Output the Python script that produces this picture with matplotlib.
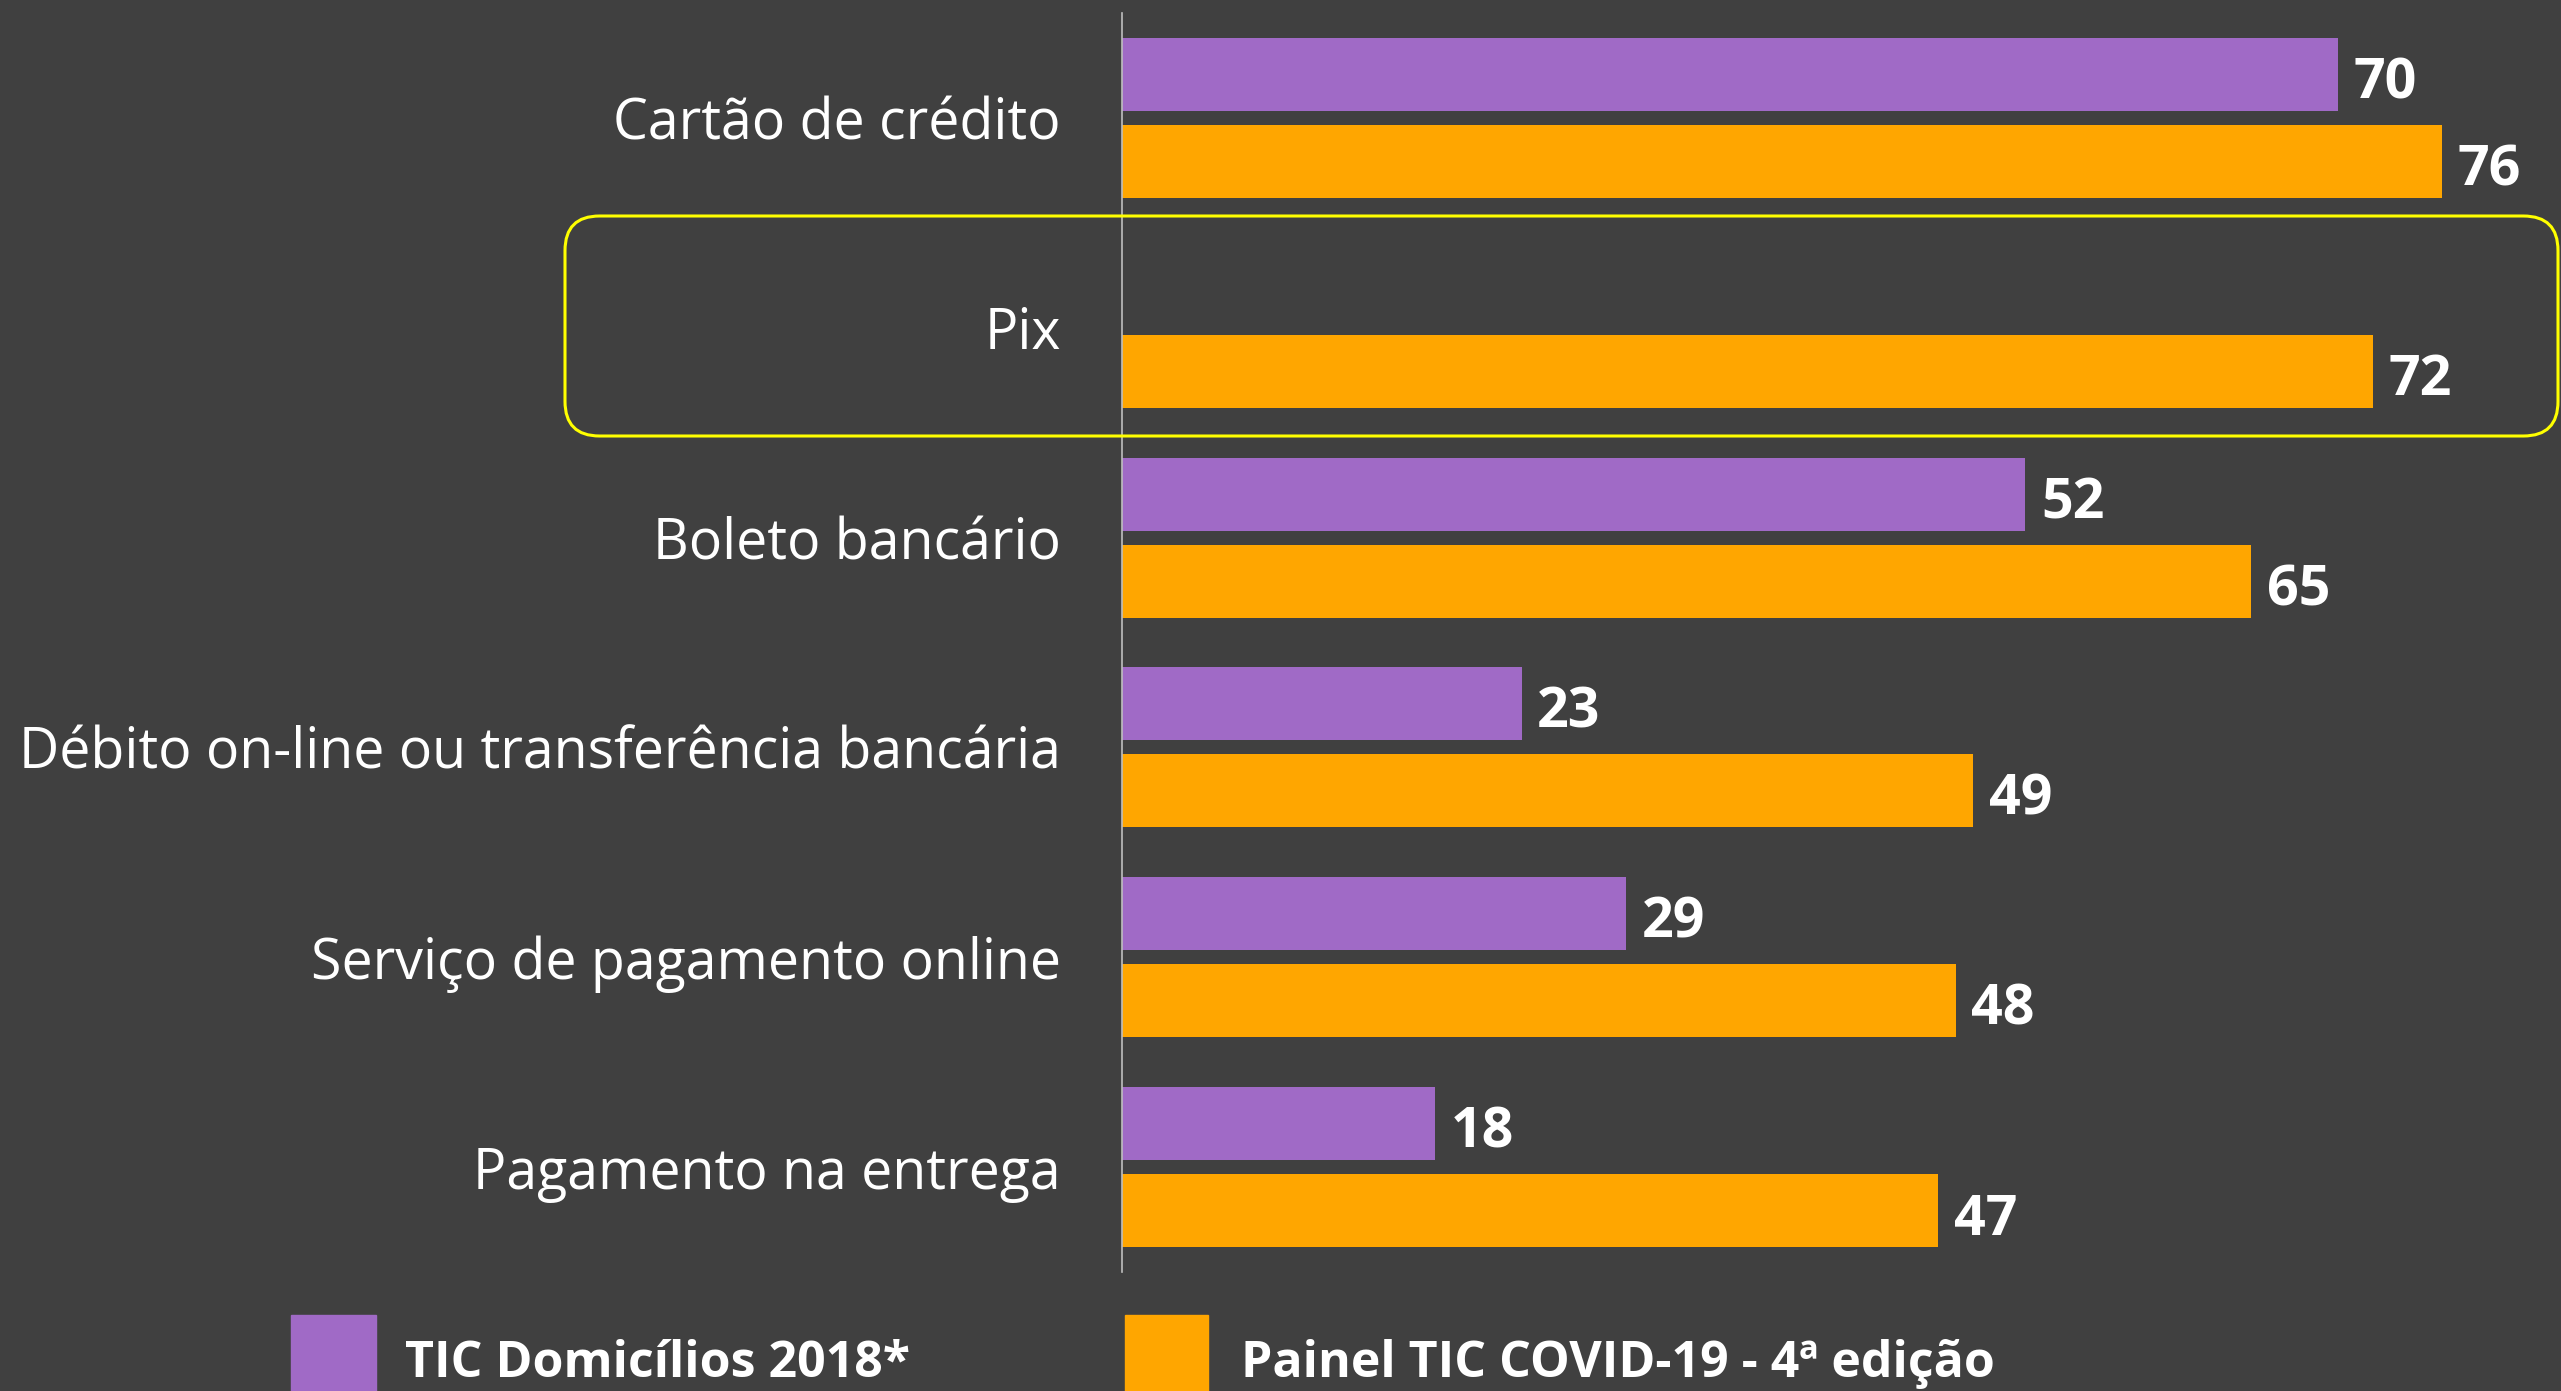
import numpy as np
import matplotlib.pyplot as plt
from matplotlib.patches import FancyBboxPatch, Rectangle

plt.switch_backend('AGG')
plt.rcParams['font.family'] = ['Open Sans', 'DejaVu Sans']

categories = ['Cartão de crédito', 'Pix', 'Boleto bancário',
              'Débito on-line ou transferência bancária',
              'Serviço de pagamento online', 'Pagamento na entrega']
tic_2018 = [70, np.nan, 52, 23, 29, 18]
covid_4 = [76, 72, 65, 49, 48, 47]
series_names = ['TIC Domicílios 2018*', 'Painel TIC COVID-19 - 4ª edição']

bg = '#404040'
purple = '#A06AC6'
orange = '#FFA600'
W, H = 2561, 1391

fig = plt.figure(figsize=(W / 100, H / 100), dpi=100, facecolor=bg)
ax = fig.add_axes([1122 / W, 1 - 1272 / H, 1 - 1122 / W, (1272 - 13) / H])
ax.set_facecolor(bg)

y = np.arange(len(categories))
off = 43.5 / 209.8
h = 73 / 209.8
ax.barh(y - off, tic_2018, height=h, color=purple)
ax.barh(y + off, covid_4, height=h, color=orange)

# value labels, nudged a little below the bar centre like the original
for i in range(len(categories)):
    if not np.isnan(tic_2018[i]):
        ax.text(tic_2018[i] + 0.9, y[i] - off + 0.045, f'{tic_2018[i]:.0f}', color='white',
                fontsize=40, fontweight='bold', va='center', ha='left')
    ax.text(covid_4[i] + 0.9, y[i] + off + 0.045, f'{covid_4[i]:.0f}', color='white',
            fontsize=40, fontweight='bold', va='center', ha='left')

ax.set_xlim(0, (W - 1122) / 17.37)
ax.set_ylim(5.5, -0.5)
ax.set_yticks(y)
ax.set_yticklabels(categories, color='white', fontsize=40)
ax.tick_params(axis='y', length=0, pad=44)
ax.set_xticks([])
for s in ['top', 'right', 'bottom']:
    ax.spines[s].set_visible(False)
ax.spines['left'].set_color('#BFBFBF')
ax.spines['left'].set_linewidth(1.2)

# highlight box around Pix
box = FancyBboxPatch((565 / W, 1 - 436 / H), (2558 - 565) / W, (436 - 216) / H,
                     boxstyle='round,pad=0,rounding_size=0.0135',
                     transform=fig.transFigure, fill=False, edgecolor='#FFFF00',
                     linewidth=2.2, mutation_aspect=W / H)
fig.patches.append(box)

# legend
fig.patches.append(Rectangle((291 / W, 0), 85 / W, 76 / H, color=purple,
                             transform=fig.transFigure))
fig.patches.append(Rectangle((1125 / W, 0), 83 / W, 76 / H, color=orange,
                             transform=fig.transFigure))
fig.text(405 / W, 1 - 1377 / H, series_names[0], color='white', fontsize=36,
         fontweight='bold', va='baseline')
fig.text(1241 / W, 1 - 1377 / H, series_names[1], color='white', fontsize=36,
         fontweight='bold', va='baseline')

fig.savefig('out.png', dpi=100, facecolor=bg)
